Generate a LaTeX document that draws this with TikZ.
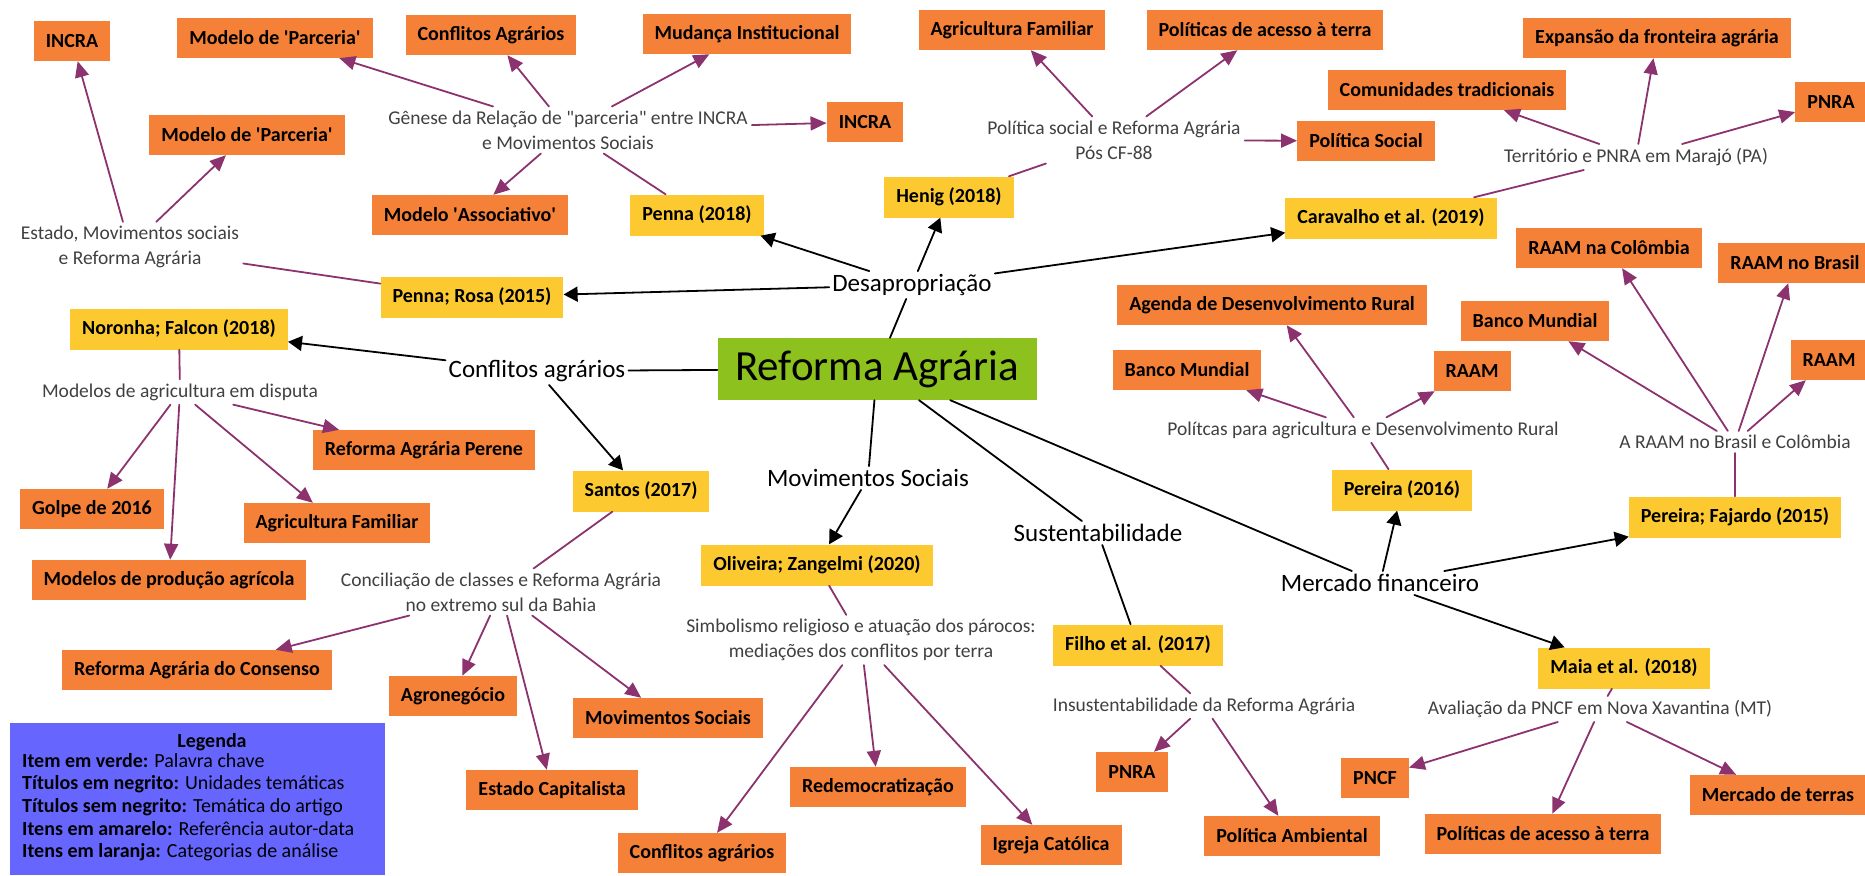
\documentclass[tikz,border=0pt]{standalone}
\usepackage{fontspec}
\setmainfont{Carlito}
\usetikzlibrary{arrows.meta}

\definecolor{laranja}{RGB}{245,128,55}
\definecolor{amarelo}{RGB}{252,202,48}
\definecolor{verde}{RGB}{140,193,30}
\definecolor{roxo}{RGB}{140,50,110}
\definecolor{lilas}{RGB}{102,102,255}

\begin{document}
\begin{tikzpicture}[x=1pt,y=-1pt, line join=round,line cap=round,
	cat/.style={fill=laranja, font=\fontsize{20}{23}\selectfont\bfseries, inner xsep=12pt, minimum height=40pt},
	ref/.style={fill=amarelo, font=\fontsize{20}{23}\selectfont\bfseries, inner xsep=12pt, minimum height=41pt},
	tema/.style={font=\fontsize{19.5}{25}\selectfont, text=black!75, align=center, inner sep=4pt},
	unid/.style={font=\fontsize{25}{29}\selectfont, inner sep=3pt},
	chave/.style={fill=verde, font=\fontsize{43}{48}\selectfont, minimum width=319pt, minimum height=62pt},
	liga/.style={draw=roxo, line width=1.8pt},
	seta/.style={liga, -{Triangle[length=16pt,width=14pt]}},
	ramo/.style={draw=black, line width=1.8pt},
	ramoseta/.style={ramo, -{Triangle[length=14pt,width=15pt]}}]
	\useasboundingbox (0,0) rectangle (1865,875);
	
	% --- Palavra chave e unidades temáticas ---
	\node[chave] (ra) at (877,369) {Reforma Agrária};
	\node[unid] (desap) at (912,285) {Desapropriação};
	\node[unid] (confl) at (537,371) {Conflitos agrários};
	\node[unid] (movs) at (868,478) {Movimentos Sociais};
	\node[unid] (sust) at (1098,533) {Sustentabilidade};
	\node[unid] (merc) at (1380,583) {Mercado financeiro};
	
	% --- Referências ---
	\node[ref] (penna) at (697,215) {Penna (2018)};
	\node[ref] (henig) at (949,197) {Henig (2018)};
	\node[ref] (carav) at (1391,218) {Caravalho et al. (2019)};
	\node[ref] (pennarosa) at (472,297) {Penna; Rosa (2015)};
	\node[ref] (noronha) at (179,329) {Noronha; Falcon (2018)};
	\node[ref] (santos) at (641,491) {Santos (2017)};
	\node[ref] (oliveira) at (817,565) {Oliveira; Zangelmi (2020)};
	\node[ref] (filho) at (1138,645) {Filho et al. (2017)};
	\node[ref] (pereira) at (1402,490) {Pereira (2016)};
	\node[ref] (fajardo) at (1735,517) {Pereira; Fajardo (2015)};
	\node[ref] (maia) at (1624,668) {Maia et al. (2018)};
	
	% --- Temáticas dos artigos ---
	\node[tema] (estado) at (130,247) {Estado, Movimentos sociais\\e Reforma Agrária};
	\node[tema] (genese) at (568,130) {Gênese da Relação de \textquotedbl parceria\textquotedbl{} entre INCRA\\e Movimentos Sociais};
	\node[tema] (polsoc) at (1114,140) {Política social e Reforma Agrária\\Pós CF-88};
	\node[tema] (territ) at (1636,157) {Território e PNRA em Marajó (PA)};
	\node[tema] (modelos) at (180,392) {Modelos de agricultura em disputa};
	\node[tema] (concil) at (501,592) {Conciliação de classes e Reforma Agrária\\no extremo sul da Bahia};
	\node[tema] (simbol) at (861,640) {Simbolismo religioso e atuação dos párocos:\\mediações dos conflitos por terra};
	\node[tema] (insust) at (1204,706) {Insustentabilidade da Reforma Agrária};
	\node[tema] (polagr) at (1363,430) {Polítcas para agricultura e Desenvolvimento Rural};
	\node[tema] (raambc) at (1735,442) {A RAAM no Brasil e Colômbia};
	\node[tema] (avalia) at (1600,709) {Avaliação da PNCF em Nova Xavantina (MT)};
	
	% --- Categorias de análise ---
	\node[cat] (incraA) at (72,41) {INCRA};
	\node[cat] (parcA) at (275,38) {Modelo de \textquotesingle Parceria\textquotesingle};
	\node[cat] (conflA) at (491,35) {Conflitos Agrários};
	\node[cat] (mudanca) at (747,34) {Mudança Institucional};
	\node[cat] (incraB) at (865,122) {INCRA};
	\node[cat] (agrfamA) at (1012,30) {Agricultura Familiar};
	\node[cat] (acessoA) at (1265,30) {Políticas de acesso à terra};
	\node[cat] (polsocial) at (1366,141) {Política Social};
	\node[cat] (comunid) at (1447,90) {Comunidades tradicionais};
	\node[cat] (expansao) at (1657,38) {Expansão da fronteira agrária};
	\node[cat] (pnraA) at (1831,102) {PNRA};
	\node[cat] (parcB) at (247,135) {Modelo de \textquotesingle Parceria\textquotesingle};
	\node[cat] (assoc) at (470,215) {Modelo \textquotesingle Associativo\textquotesingle};
	\node[cat] (agenda) at (1272,305) {Agenda de Desenvolvimento Rural};
	\node[cat] (bancoA) at (1187,370) {Banco Mundial};
	\node[cat] (raamA) at (1472,371) {RAAM};
	\node[cat] (raamcol) at (1609,248) {RAAM na Colômbia};
	\node[cat] (raambr) at (1795,263) {RAAM no Brasil};
	\node[cat] (bancoB) at (1535,321) {Banco Mundial};
	\node[cat] (raamB) at (1829,360) {RAAM};
	\node[cat] (perene) at (424,450) {Reforma Agrária Perene};
	\node[cat] (golpe) at (92,509) {Golpe de 2016};
	\node[cat] (agrfamB) at (337,523) {Agricultura Familiar};
	\node[cat] (producao) at (169,580) {Modelos de produção agrícola};
	\node[cat] (consenso) at (197,670) {Reforma Agrária do Consenso};
	\node[cat] (agroneg) at (453,696) {Agronegócio};
	\node[cat] (movsoc) at (668,718) {Movimentos Sociais};
	\node[cat] (capital) at (552,790) {Estado Capitalista};
	\node[cat] (redemo) at (878,787) {Redemocratização};
	\node[cat] (conflB) at (702,853) {Conflitos agrários};
	\node[cat] (igreja) at (1051,845) {Igreja Católica};
	\node[cat] (pnraB) at (1132,772) {PNRA};
	\node[cat] (ambiental) at (1292,836) {Política Ambiental};
	\node[cat] (pncf) at (1375,778) {PNCF};
	\node[cat] (acessoB) at (1543,834) {Políticas de acesso à terra};
	\node[cat] (mterras) at (1778,795) {Mercado de terras};
	
	% --- Ligações principais ---
	\draw[ramo] (ra)--(desap);
	\draw[ramo] (ra)--(confl);
	\draw[ramo] (ra)--(movs);
	\draw[ramo] (ra)--(sust);
	\draw[ramo] (ra)--(merc);
	\draw[ramoseta] (desap)--(pennarosa);
	\draw[ramoseta] (desap)--(penna);
	\draw[ramoseta] (desap)--(henig);
	\draw[ramoseta] (desap)--(carav);
	\draw[ramoseta] (confl)--(noronha);
	\draw[ramoseta] (confl)--(santos);
	\draw[ramoseta] (movs)--(oliveira);
	\draw[ramo] (sust)--(filho);
	\draw[ramoseta] (merc)--(pereira);
	\draw[ramoseta] (merc)--(fajardo);
	\draw[ramoseta] (merc)--(maia);
	
	% --- Referência -> temática ---
	\draw[liga] (pennarosa)--(estado);
	\draw[liga] (penna)--(genese);
	\draw[liga] (henig)--(polsoc);
	\draw[liga] (carav)--(territ);
	\draw[liga] (noronha)--(modelos);
	\draw[liga] (santos)--(concil);
	\draw[liga] (oliveira)--(simbol);
	\draw[liga] (filho)--(insust);
	\draw[liga] (pereira)--(polagr);
	\draw[liga] (fajardo)--(raambc);
	\draw[liga] (maia)--(avalia);
	
	% --- Temática -> categorias ---
	\draw[seta] (estado)--(incraA);
	\draw[seta] (estado)--(parcB);
	\draw[seta] (genese)--(parcA);
	\draw[seta] (genese)--(conflA);
	\draw[seta] (genese)--(mudanca);
	\draw[seta] (genese)--(incraB);
	\draw[seta] (genese)--(assoc);
	\draw[seta] (polsoc)--(agrfamA);
	\draw[seta] (polsoc)--(acessoA);
	\draw[seta] (polsoc)--(polsocial);
	\draw[seta] (territ)--(comunid);
	\draw[seta] (territ)--(expansao);
	\draw[seta] (territ)--(pnraA);
	\draw[seta] (modelos)--(golpe);
	\draw[seta] (modelos)--(producao);
	\draw[seta] (modelos)--(agrfamB);
	\draw[seta] (modelos)--(perene);
	\draw[seta] (concil)--(consenso);
	\draw[seta] (concil)--(agroneg);
	\draw[seta] (concil)--(capital);
	\draw[seta] (concil)--(movsoc);
	\draw[seta] (simbol)--(conflB);
	\draw[seta] (simbol)--(redemo);
	\draw[seta] (simbol)--(igreja);
	\draw[seta] (insust)--(pnraB);
	\draw[seta] (insust)--(ambiental);
	\draw[seta] (polagr)--(bancoA);
	\draw[seta] (polagr)--(agenda);
	\draw[seta] (polagr)--(raamA);
	\draw[seta] (raambc)--(bancoB);
	\draw[seta] (raambc)--(raamcol);
	\draw[seta] (raambc)--(raambr);
	\draw[seta] (raambc)--(raamB);
	\draw[seta] (avalia)--(pncf);
	\draw[seta] (avalia)--(acessoB);
	\draw[seta] (avalia)--(mterras);
	
	% --- Legenda ---
	\node[fill=lilas, minimum width=375pt, minimum height=152pt, anchor=south west] (legenda) at (10,875) {};
	\node[font=\fontsize{20}{22}\selectfont\bfseries] (legtit) at (212,742) {Legenda};
	\node[font=\fontsize{20}{22.6}\selectfont, align=left, anchor=north west, inner sep=0pt] (legtxt) at (22,753)
	{\textbf{Item em verde:} Palavra chave\\
		\textbf{Títulos em negrito:} Unidades temáticas\\
		\textbf{Títulos sem negrito:} Temática do artigo\\
		\textbf{Itens em amarelo:} Referência autor-data\\
		\textbf{Itens em laranja:} Categorias de análise};
\end{tikzpicture}
\end{document}
